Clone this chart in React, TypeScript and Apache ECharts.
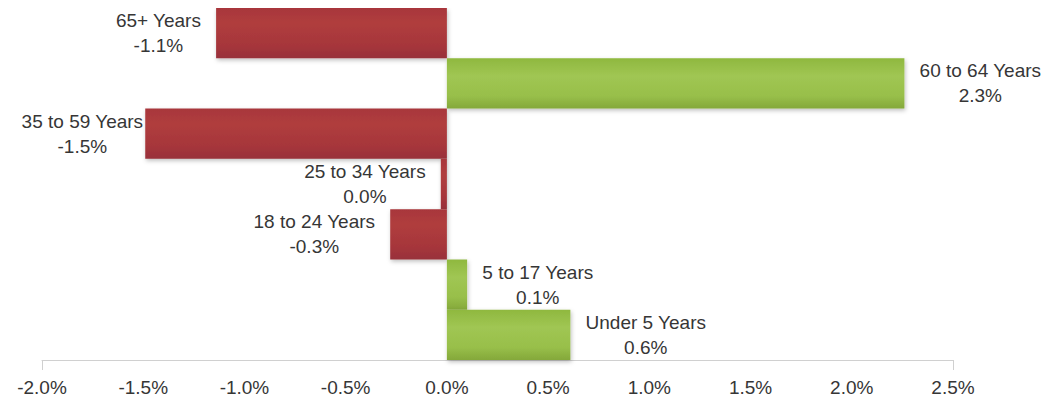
import React, { useEffect, useRef } from "react";
import * as echarts from "echarts";

const categories = [
  "65+ Years",
  "60 to 64 Years",
  "35 to 59 Years",
  "25 to 34 Years",
  "18 to 24 Years",
  "5 to 17 Years",
  "Under 5 Years",
];
const values = [-1.14, 2.26, -1.49, -0.03, -0.28, 0.1, 0.61];
const axisTicks = [-2, -1.5, -1, -0.5, 0, 0.5, 1, 1.5, 2, 2.5];

const FONT = "'Liberation Sans', Arial, sans-serif";
const TEXT = "#363636";

const fmt = (v: number) => (Math.round(v * 10) / 10 + 0).toFixed(1) + "%";

const redGrad = () =>
  new echarts.graphic.LinearGradient(0, 0, 0, 1, [
    { offset: 0, color: "#a8363b" },
    { offset: 0.3, color: "#b03d3e" },
    { offset: 0.75, color: "#a6363a" },
    { offset: 1, color: "#98303a" },
  ]);
const greenGrad = () =>
  new echarts.graphic.LinearGradient(0, 0, 0, 1, [
    { offset: 0, color: "#8fb83f" },
    { offset: 0.35, color: "#a0c653" },
    { offset: 0.75, color: "#98bf4a" },
    { offset: 1, color: "#84a83a" },
  ]);

export default function App() {
  const ref = useRef<HTMLDivElement>(null);
  useEffect(() => {
    if (!ref.current) return;
    const chart = echarts.init(ref.current, null, { renderer: "svg" });
    const data = values.map((v, i) => ({
      value: v,
      itemStyle: { color: v < 0 ? redGrad() : greenGrad() },
      label: {
        position: v < 0 ? "left" : "right",
        distance: categories[i] === "35 to 59 Years" ? 2 : 15,
      },
    }));
    chart.setOption({
      animation: false,
      grid: { left: 34, right: 93, top: 0, bottom: 35, containLabel: false },
      xAxis: {
        type: "value",
        min: axisTicks[0],
        max: axisTicks[axisTicks.length - 1],
        interval: 0.5,
        splitLine: { show: false },
        axisLine: { show: true, lineStyle: { color: "#d0d0d0", width: 1 } },
        axisTick: {
          show: true,
          length: 10,
          lineStyle: { color: "#d0d0d0" },
          customValues: [axisTicks[0], axisTicks[axisTicks.length - 1]],
        },
        axisLabel: {
          color: TEXT,
          fontFamily: FONT,
          fontSize: 19,
          margin: 18,
          formatter: (v: number) => fmt(v),
          customValues: axisTicks,
        },
      },
      yAxis: {
        type: "category",
        data: categories,
        inverse: true,
        axisLine: { show: false },
        axisTick: { show: false },
        axisLabel: { show: false },
        splitLine: { show: false },
      },
      series: [
        {
          type: "bar",
          data,
          barWidth: "100%",
          itemStyle: {
            shadowBlur: 4,
            shadowColor: "rgba(0,0,0,0.25)",
            shadowOffsetX: 1,
            shadowOffsetY: 2,
          },
          label: {
            show: true,
            fontFamily: FONT,
            fontSize: 19,
            color: TEXT,
            formatter: (p: any) => `{c|${p.name}}\n{c|${fmt(p.value)}}`,
            rich: {
              c: {
                align: "center",
                fontFamily: FONT,
                fontSize: 19,
                color: TEXT,
                lineHeight: 25,
              },
            },
          },
        },
      ],
    });
    return () => chart.dispose();
  }, []);
  return <div ref={ref} style={{ width: 1038, height: 389 }} />;
}
